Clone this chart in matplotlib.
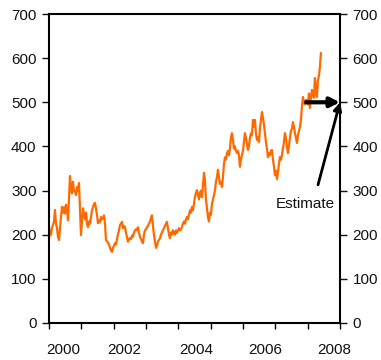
import numpy as np
import matplotlib
matplotlib.use("Agg")
import matplotlib.pyplot as plt

plt.rcParams['font.family'] = ['Liberation Sans', 'DejaVu Sans']

# Series (approx. every ~11 days), decimal-year span
START_YEAR = 1999.5
END_YEAR = 2007.91
values = [192, 210, 200, 217, 222, 230, 256, 225, 215, 195, 188, 215, 240, 263, 250, 262, 248, 268, 258, 233,
          280, 333, 305, 294, 320, 300, 298, 290, 308, 300, 317, 260, 199, 230, 260, 245, 235, 250, 225, 217,
          230, 225, 240, 255, 262, 270, 272, 260, 245, 226, 232, 228, 240, 235, 238, 244, 225, 188, 185, 182,
          178, 170, 165, 161, 170, 175, 181, 178, 190, 200, 210, 222, 225, 229, 215, 220, 217, 205, 195, 184,
          190, 192, 190, 198, 195, 205, 210, 212, 210, 217, 205, 195, 190, 185, 181, 200, 210, 212, 217, 220,
          225, 230, 238, 244, 220, 200, 185, 170, 175, 185, 188, 192, 200, 205, 210, 215, 220, 225, 229, 215,
          200, 192, 205, 200, 210, 205, 200, 210, 204, 210, 215, 210, 212, 217, 225, 230, 225, 235, 240, 235,
          245, 255, 250, 263, 255, 270, 285, 295, 301, 290, 280, 295, 300, 285, 310, 340, 324, 280, 260, 240,
          230, 250, 245, 270, 279, 290, 300, 320, 330, 347, 330, 315, 320, 308, 330, 360, 375, 370, 385, 390,
          380, 395, 420, 430, 415, 395, 400, 390, 385, 390, 380, 354, 370, 380, 390, 410, 430, 420, 405, 392,
          400, 420, 430, 425, 460, 445, 460, 430, 415, 420, 410, 440, 460, 478, 465, 450, 430, 410, 395, 376,
          385, 380, 390, 392, 370, 355, 335, 345, 326, 340, 360, 376, 370, 380, 395, 410, 430, 420, 400, 385,
          400, 420, 435, 440, 455, 445, 430, 420, 408, 425, 435, 444, 460, 490, 512, 500, 495, 505, 505, 495,
          520, 487, 510, 528, 520, 510, 555, 530, 512, 550, 560, 580, 611]
years = np.linspace(START_YEAR, END_YEAR, len(values))

year_labels = ['2000', '2002', '2004', '2006', '2008']
label_pos = [1999.93, 2001.84, 2004.05, 2006.2, 2008.33]
yticks = [0, 100, 200, 300, 400, 500, 600, 700]

estimate_value = 500
estimate_from = 2007.45
estimate_text_pos = (2007.42, 270)
estimate_arrow_start = (2007.82, 313)

fig = plt.figure(figsize=(3.81, 3.60), dpi=100)
ax = fig.add_axes([49/381, 37/360, 291/381, 309/360])
ax.plot(years, values, color='#FF6A00', lw=1.6)

ax.set_xlim(1999.5, 2008.5)
ax.set_ylim(0, 700)
for s in ax.spines.values():
    s.set_linewidth(1.5)
    s.set_color('black')

ax.set_yticks(yticks)
ax.tick_params(axis='y', which='both', left=True, right=True, labelleft=True, labelright=True,
               direction='out', length=5, width=1, pad=4, labelsize=11, colors='#111111')
ax.set_xticks(np.arange(1999.5, 2008.51, 1.0), minor=True)
ax.tick_params(axis='x', which='minor', direction='out', length=4, width=1, bottom=True)
ax.set_xticks(label_pos)
ax.set_xticklabels(year_labels)
ax.tick_params(axis='x', which='major', length=0, pad=14.5, labelsize=11, colors='#111111')

ax.annotate('', xy=(2008.5, estimate_value), xytext=(estimate_from, estimate_value),
            arrowprops=dict(arrowstyle='-|>', lw=3, color='black', mutation_scale=14, shrinkA=0, shrinkB=0))
ax.annotate('', xy=(2008.5, estimate_value), xytext=estimate_arrow_start,
            arrowprops=dict(arrowstyle='-|>', lw=2, color='black', mutation_scale=12, shrinkA=0, shrinkB=0))
ax.text(estimate_text_pos[0], estimate_text_pos[1], 'Estimate', ha='center', va='center', fontsize=11,
        color='#111111')

fig.savefig('out.png', dpi=100)
